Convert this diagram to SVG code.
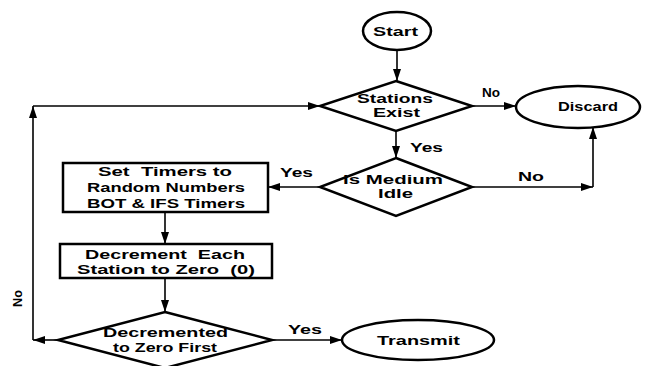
<svg xmlns="http://www.w3.org/2000/svg" width="657" height="366" viewBox="0 0 657 366">
<defs>
<style>
.shape{fill:#fff;stroke:#000;stroke-width:2.5}
.conn{fill:none;stroke:#000;stroke-width:1.6}
text{font-family:"Liberation Sans",Arial,sans-serif;font-weight:bold;font-size:13.5px;fill:#000}
</style>
<marker id="ah" viewBox="0 0 12 8" refX="12" refY="4" markerWidth="13" markerHeight="8" markerUnits="userSpaceOnUse" orient="auto">
<path d="M0,0 L12,4 L0,8 Z" fill="#000"/>
</marker>
</defs>
<rect width="657" height="366" fill="#fff"/>
<g id="connectors">
<line class="conn" x1="397" y1="50" x2="397" y2="81" marker-end="url(#ah)"/>
<line class="conn" x1="472" y1="106" x2="516" y2="106" marker-end="url(#ah)"/>
<line class="conn" x1="396" y1="131" x2="396" y2="158" marker-end="url(#ah)"/>
<line class="conn" x1="472" y1="187" x2="593" y2="187" marker-end="url(#ah)"/>
<line class="conn" x1="593" y1="187" x2="593" y2="127" marker-end="url(#ah)"/>
<line class="conn" x1="320" y1="187" x2="268" y2="187" marker-end="url(#ah)"/>
<line class="conn" x1="165" y1="212" x2="165" y2="244" marker-end="url(#ah)"/>
<line class="conn" x1="165" y1="278" x2="165" y2="312" marker-end="url(#ah)"/>
<line class="conn" x1="58" y1="340" x2="33" y2="340" marker-end="url(#ah)"/>
<line class="conn" x1="33" y1="340" x2="33" y2="106" marker-end="url(#ah)"/>
<line class="conn" x1="33" y1="106" x2="320" y2="106" marker-end="url(#ah)"/>
<line class="conn" x1="272" y1="340" x2="342" y2="340" marker-end="url(#ah)"/>
<text x="482" y="97" textLength="18" lengthAdjust="spacingAndGlyphs">No</text>
<text x="410" y="152" textLength="33" lengthAdjust="spacingAndGlyphs">Yes</text>
<text x="518" y="181" textLength="26" lengthAdjust="spacingAndGlyphs">No</text>
<text x="280" y="177" textLength="33" lengthAdjust="spacingAndGlyphs">Yes</text>
<text x="288" y="334" textLength="34" lengthAdjust="spacingAndGlyphs">Yes</text>
<text transform="translate(22,307) rotate(-90)" x="0" y="0" textLength="17" lengthAdjust="spacingAndGlyphs">No</text>
</g>
<g id="start">
<ellipse class="shape" cx="397" cy="31" rx="34" ry="19"/>
<text x="373" y="36" textLength="45" lengthAdjust="spacingAndGlyphs">Start</text>
</g>
<g id="stations-exist">
<polygon class="shape" points="396,81 472,106 396,131 320,106"/>
<text x="357" y="103" textLength="76" lengthAdjust="spacingAndGlyphs">Stations</text>
<text x="373" y="117" textLength="47" lengthAdjust="spacingAndGlyphs">Exist</text>
</g>
<g id="discard">
<ellipse class="shape" cx="578" cy="107" rx="62" ry="21"/>
<text x="558" y="111" textLength="60" lengthAdjust="spacingAndGlyphs">Discard</text>
</g>
<g id="medium-idle">
<polygon class="shape" points="396,158 472,187 396,216 320,187"/>
<text x="343" y="184" textLength="100" lengthAdjust="spacingAndGlyphs">Is Medium</text>
<text x="378" y="198" textLength="35" lengthAdjust="spacingAndGlyphs">Idle</text>
</g>
<g id="set-timers">
<rect class="shape" x="63" y="163" width="205" height="49"/>
<text x="98" y="176" textLength="134" lengthAdjust="spacingAndGlyphs" xml:space="preserve">Set  Timers to</text>
<text x="87" y="192" textLength="158" lengthAdjust="spacingAndGlyphs">Random Numbers</text>
<text x="87" y="208" textLength="158" lengthAdjust="spacingAndGlyphs">BOT &amp; IFS Timers</text>
</g>
<g id="decrement">
<rect class="shape" x="60" y="244" width="212" height="34"/>
<text x="85" y="259" textLength="160" lengthAdjust="spacingAndGlyphs" xml:space="preserve">Decrement  Each</text>
<text x="77" y="274" textLength="178" lengthAdjust="spacingAndGlyphs" xml:space="preserve">Station to Zero  (0)</text>
</g>
<g id="zero-first">
<polygon class="shape" points="165,312 272,340 165,368 58,340"/>
<text x="103" y="337" textLength="125" lengthAdjust="spacingAndGlyphs">Decremented</text>
<text x="113" y="352" textLength="104" lengthAdjust="spacingAndGlyphs">to Zero First</text>
</g>
<g id="transmit">
<ellipse class="shape" cx="418" cy="340" rx="76" ry="20"/>
<text x="377" y="345" textLength="83" lengthAdjust="spacingAndGlyphs">Transmit</text>
</g>
</svg>
